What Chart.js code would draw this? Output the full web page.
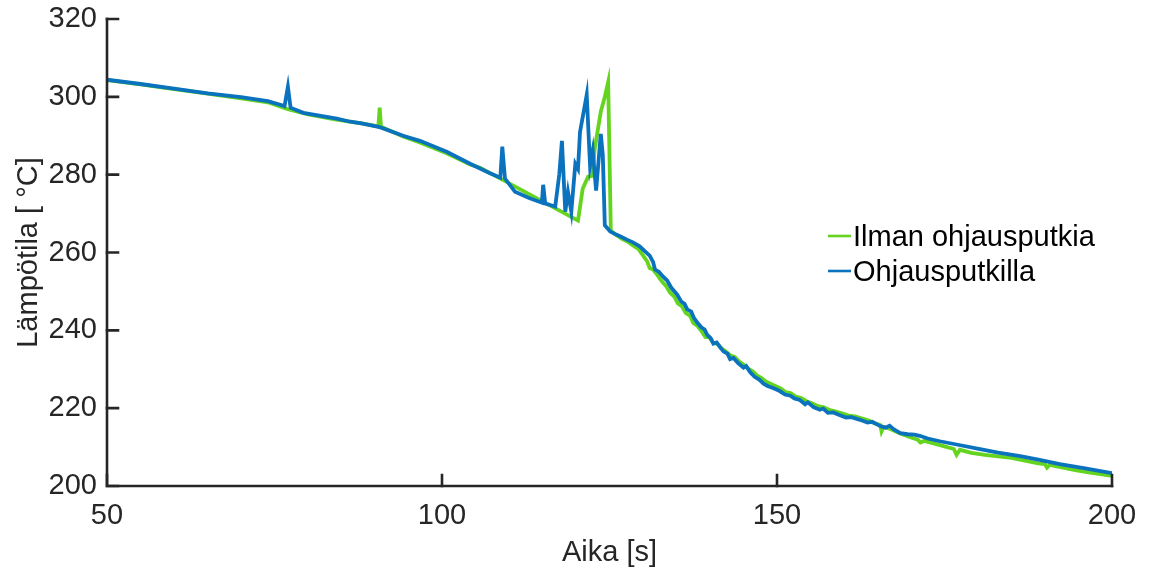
<!DOCTYPE html>
<html lang="fi">
<head>
  <meta charset="UTF-8">
  <title>Lämpötila</title>
  <style>
    html, body { margin: 0; padding: 0; background: #fff; }
    #wrap { width: 1149px; height: 570px; position: relative; }
  </style>
</head>
<body>
  <div id="wrap">
    <canvas id="chart" width="1149" height="570"></canvas>
  </div>

  <script src="https://cdn.jsdelivr.net/npm/chart.js"></script>
  <script>
    // akselit
    const xTicks = [50, 100, 150, 200];
    const yTicks = [200, 220, 240, 260, 280, 300, 320];
    const seriesNames = ['Ilman ohjausputkia', 'Ohjausputkilla'];

    // Ilman ohjausputkia (vihreä)
    const greenTime = [50, 55, 60, 65, 70, 74, 77, 80, 84, 88, 90.5, 90.7, 90.9, 94.2, 96.7, 100.7, 104.2, 105.7,
      120.3, 121.0, 121.8, 122.4, 122.8, 123.7, 124.3, 124.8, 125.2,
      126.0, 126.8, 127.6, 128.5, 129.3, 130.1, 130.6, 131.0, 131.5, 132.1, 132.8, 133.4, 134.0, 134.7,
      135.2, 135.8, 136.4, 137.0, 137.5, 138.1, 138.7, 139.3, 139.9, 140.5, 141.1, 141.7, 142.4, 143.0,
      143.7, 144.4, 145.0, 145.7, 146.4, 147.0, 147.7, 148.4, 149.1, 149.9, 150.6, 151.3, 152.0, 152.8,
      153.6, 154.4, 155.3, 156.1, 157.0, 157.9, 158.8, 159.7, 160.7, 161.6, 162.6, 163.6, 164.6, 165.4,
      165.6, 165.9, 167.0, 168.4, 169.8, 171.0, 171.4, 172.0, 173.5, 175.0, 176.4, 176.8, 177.3, 179.0,
      181.0, 183.0, 185.0, 187.0, 189.0, 190.0, 190.3, 190.7, 192.5, 194.5, 196.5, 198.5, 200.0];
    const greenTemp = [304.3, 303.2, 302.0, 300.8, 299.6, 298.6, 296.8, 295.5, 294.2, 293.2, 292.4, 297.2, 292.3, 289.8, 288.3, 285.5, 282.6, 281.8,
      268.2, 276.4, 279.5, 279.7, 286.7, 296.2, 300.0, 303.8, 265.6,
      264.5, 263.6, 262.9, 261.8, 260.9, 259.0, 257.8, 256.0, 255.6, 254.3, 252.6, 251.5, 249.8, 248.6,
      246.9, 246.2, 244.4, 243.8, 241.9, 241.2, 239.9, 238.3, 238.2, 236.8, 236.5, 235.4, 234.5, 233.6,
      233.1, 231.9, 231.2, 230.2, 229.4, 228.4, 227.7, 226.8, 226.2, 225.6, 225.0, 224.1, 223.9, 223.0,
      222.6, 221.8, 221.2, 220.5, 220.2, 219.5, 219.1, 218.7, 218.1, 217.9, 217.4, 216.9, 216.1, 215.7,
      214.0, 215.2, 214.6, 213.5, 212.6, 211.9, 211.2, 211.6, 210.9, 210.2, 209.5, 208.0, 209.3, 208.5,
      208.0, 207.6, 207.2, 206.5, 205.8, 205.6, 204.7, 205.4, 204.8, 204.1, 203.5, 203.0, 202.6];

    // Ohjausputkilla (sininen)
    const blueTime = [50, 55, 60, 65, 70, 74, 76.5, 77.0, 77.4, 79.3, 84.3, 86.3, 88, 90.7, 94.2, 96.7, 100.7, 104.2, 107, 108.7,
      109.0, 109.4, 110.9, 113, 114.9, 115.1, 115.4, 116.9, 117.5, 117.9, 118.4, 118.8, 119.3, 119.9, 120.3,
      120.6, 121.6, 122.1, 122.5, 123.0, 123.7, 124.0, 124.3, 125.1,
      126.0, 126.8, 127.6, 128.5, 129.5, 130.3, 131.0, 131.5, 131.8, 132.4, 133.0, 133.6, 134.2, 135.1,
      135.7, 136.2, 136.6, 137.2, 137.6, 138.1, 138.7, 139.2, 139.6, 140.1, 140.5, 141.0, 141.5, 142.0,
      142.6, 143.0, 143.5, 144.2, 145.0, 145.4, 146.0, 146.7, 147.3, 148.0, 148.6, 149.5, 150.4, 151.2,
      152.0, 152.6, 153.4, 154.2, 154.6, 155.5, 156.4, 156.9, 157.6, 158.4, 159.4, 160.3, 161.1, 162.4,
      163.5, 164.2, 165.4, 166.2, 166.8, 167.4, 168.4, 169.5, 170.5, 171.3, 172.5, 174.3, 177.0, 180.3,
      183.0, 186.3, 189.0, 192.2, 196.0, 200.0];
    const blueTemp = [304.4, 303.3, 302.1, 300.9, 299.9, 298.9, 297.6, 302.6, 297.2, 295.9, 294.4, 293.6, 293.2, 292.2, 290.0, 288.7, 285.9, 282.8, 280.5, 279.2,
      287.2, 279.0, 275.6, 274.0, 272.8, 277.4, 272.6, 271.8, 280.0, 288.7, 270.5, 275.6, 270.5, 282.8, 281.5,
      291.0, 300.5, 282.3, 286.2, 275.9, 290.5, 285.0, 267.0, 265.4,
      264.6, 264.0, 263.3, 262.6, 261.6, 260.3, 259.2, 257.6, 255.6, 255.0, 253.8, 252.8, 251.0, 249.2,
      247.4, 246.8, 245.4, 244.8, 243.2, 242.0, 240.8, 240.2, 238.8, 238.0, 236.6, 236.9, 235.7, 234.6,
      234.0, 232.6, 232.9, 231.6, 230.4, 230.8, 229.2, 228.0, 227.4, 226.3, 225.7, 225.1, 224.4, 223.5,
      223.2, 222.5, 222.1, 221.0, 221.5, 220.2, 219.6, 219.9, 218.8, 218.9, 218.2, 217.6, 217.7, 217.0,
      216.3, 216.5, 215.4, 215.0, 215.5, 214.6, 213.6, 213.3, 213.2, 212.9, 212.2, 211.5, 210.6, 209.5,
      208.6, 207.7, 206.8, 205.6, 204.5, 203.3];

    const GREEN = '#64d41e';
    const BLUE = '#0b72bd';
    const INK = '#262626';
    const FONT = "'Liberation Sans', Arial, sans-serif";
    const FS = 29;

    function toPoints(t, v) {
      return t.map((x, i) => ({ x: x, y: v[i] }));
    }

    // MATLAB-tyyliset akselit: vain vasen ja ala, tikit sisäänpäin
    const axesPlugin = {
      id: 'matlabAxes',
      afterDraw(chart) {
        const { ctx, chartArea: a, scales } = chart;
        const tl = 11;
        ctx.save();
        ctx.strokeStyle = INK;
        ctx.lineWidth = 2.6;
        ctx.lineCap = 'square';
        ctx.beginPath();
        ctx.moveTo(a.left, a.top);
        ctx.lineTo(a.left, a.bottom);
        ctx.lineTo(a.right, a.bottom);
        ctx.stroke();
        ctx.beginPath();
        scales.y.ticks.forEach(t => {
          const py = scales.y.getPixelForValue(t.value);
          ctx.moveTo(a.left, py);
          ctx.lineTo(a.left + tl, py);
        });
        scales.x.ticks.forEach(t => {
          const px = scales.x.getPixelForValue(t.value);
          ctx.moveTo(px, a.bottom);
          ctx.lineTo(px, a.bottom - tl);
        });
        ctx.stroke();

        // selite
        const items = [[seriesNames[0], GREEN, 236], [seriesNames[1], BLUE, 271]];
        ctx.font = FS + 'px ' + FONT;
        ctx.textBaseline = 'middle';
        ctx.textAlign = 'left';
        items.forEach(([label, col, y]) => {
          ctx.strokeStyle = col;
          ctx.lineWidth = 2.6;
          ctx.lineCap = 'butt';
          ctx.beginPath();
          ctx.moveTo(828, y);
          ctx.lineTo(851, y);
          ctx.stroke();
          ctx.fillStyle = '#000';
          ctx.fillText(label, 853, y + 2);
        });
        ctx.restore();
      }
    };

    const ctx = document.getElementById('chart').getContext('2d');
    new Chart(ctx, {
      type: 'line',
      data: {
        datasets: [
          {
            label: seriesNames[0],
            data: toPoints(greenTime, greenTemp),
            borderColor: GREEN,
            borderWidth: 3.8,
            pointRadius: 0,
            tension: 0,
            order: 1
          },
          {
            label: seriesNames[1],
            data: toPoints(blueTime, blueTemp),
            borderColor: BLUE,
            borderWidth: 3.8,
            pointRadius: 0,
            tension: 0,
            order: 0
          }
        ]
      },
      options: {
        responsive: false,
        animation: false,
        layout: { padding: { top: 19, right: 37, left: 0, bottom: 0 } },
        plugins: {
          legend: { display: false },
          tooltip: { enabled: false }
        },
        scales: {
          x: {
            type: 'linear',
            min: 50,
            max: 200,
            afterBuildTicks: s => { s.ticks = xTicks.map(v => ({ value: v })); },
            afterFit: s => { s.height = 84; s.paddingLeft = 0; s.paddingRight = 0; },
            grid: { display: false, drawTicks: false },
            border: { display: false },
            ticks: { color: INK, padding: 13, maxRotation: 0, font: { size: FS, family: FONT } },
            title: { display: true, text: 'Aika [s]', color: INK, padding: { top: 0, bottom: 0 }, font: { size: FS, family: FONT } }
          },
          y: {
            type: 'linear',
            min: 200,
            max: 320,
            afterBuildTicks: s => { s.ticks = yTicks.map(v => ({ value: v })); },
            afterFit: s => { s.width = 107; s.paddingTop = 0; s.paddingBottom = 0; },
            grid: { display: false, drawTicks: false },
            border: { display: false },
            ticks: { color: INK, padding: 10, font: { size: FS, family: FONT } },
            title: { display: true, text: 'Lämpötila [ °C]', color: INK, padding: { top: 12, bottom: 0 }, font: { size: FS, family: FONT } }
          }
        }
      },
      plugins: [axesPlugin]
    });
  </script>
</body>
</html>
